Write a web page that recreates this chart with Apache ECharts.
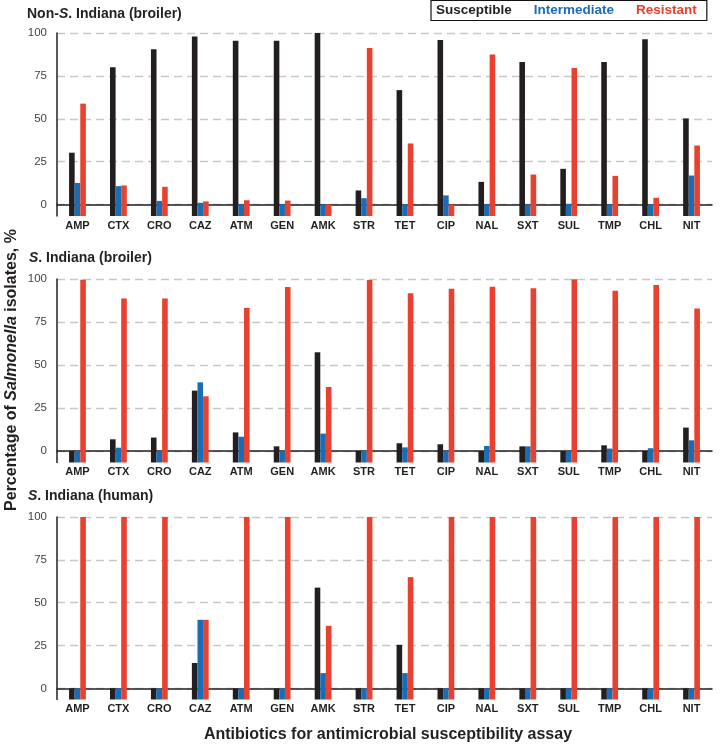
<!DOCTYPE html>
<html><head><meta charset="utf-8">
<script src="https://cdn.jsdelivr.net/npm/echarts@6/dist/echarts.min.js"></script>
<style>html,body{margin:0;padding:0;background:#fff}#c{width:720px;height:744px}</style>
</head><body><div id="c"></div>
<script>
const categories = ['AMP','CTX','CRO','CAZ','ATM','GEN','AMK','STR','TET','CIP','NAL','SXT','SUL','TMP','CHL','NIT'];
const seriesNames = ['Susceptible','Intermediate','Resistant'];
const yTicks = [0, 25, 50, 75, 100];

const nonSIBroilerS = [30.2, 80, 90.5, 97.9, 95.5, 95.5, 100, 8.2, 66.7, 95.9, 13.2, 83.1, 20.8, 83.1, 96.3, 50.2];
const nonSIBroilerI = [12.6, 10.7, 2.1, 1, 0, 0, 0, 3.7, 0, 5.3, 0, 0, 0.4, 0, 0, 16.9];
const nonSIBroilerR = [58.8, 11.1, 10.3, 1.8, 2.5, 2.3, 0, 91.2, 35.6, 0, 87.5, 17.5, 79.6, 16.7, 3.9, 34.4];

const siBroilerS = [0, 6.8, 7.8, 35.1, 10.8, 2.7, 57.4, 0, 4.5, 3.9, 0, 2.7, 0, 3.3, 0, 13.6];
const siBroilerI = [0, 1.9, 0, 39.9, 8.3, 0, 10.1, 0, 2.1, 0, 2.9, 2.7, 0, 1.4, 1.6, 6.2];
const siBroilerR = [99.6, 88.6, 88.6, 31.8, 83.1, 95.3, 37.2, 99.4, 91.7, 94.4, 95.5, 94.6, 99.8, 93.2, 96.5, 82.8];

const siHumanS = [0, 0, 0, 14.8, 0, 0, 58.8, 0, 25.4, 0, 0, 0, 0, 0, 0, 0];
const siHumanI = [0, 0, 0, 40, 0, 0, 8.9, 0, 8.9, 0, 0, 0, 0, 0, 0, 0];
const siHumanR = [100, 100, 100, 40, 100, 100, 36.5, 100, 64.9, 100, 100, 100, 100, 100, 100, 100];

const FONT = "'Liberation Sans', Arial, sans-serif";
const COLORS = ['#231f20', '#1a6db5', '#e8412f'];
const panels = [
  {top: 33, height: 183, min: -6.7, data: [nonSIBroilerS, nonSIBroilerI, nonSIBroilerR]},
  {top: 279, height: 183.5, min: -6.7, data: [siBroilerS, siBroilerI, siBroilerR]},
  {top: 517, height: 182.5, min: -6.5, data: [siHumanS, siHumanI, siHumanR]}
];
const titleTexts = [
  {text: '{n|Non-}{i|S}{n|. Indiana (broiler)}', top: 7, left: 27},
  {text: '{i|S}{n|. Indiana (broiler)}', top: 251, left: 29},
  {text: '{i|S}{n|. Indiana (human)}', top: 489, left: 28}
];
const richTitle = {
  n: {fontSize: 14, fontWeight: 'bold', fontFamily: FONT, color: '#231f20'},
  i: {fontSize: 14, fontWeight: 'bold', fontStyle: 'italic', fontFamily: FONT, color: '#231f20'}
};

const grid = [], xAxis = [], yAxis = [], series = [], title = [];
panels.forEach((p, k) => {
  grid.push({left: 57, right: 8, top: p.top, height: p.height});
  xAxis.push({
    type: 'category', gridIndex: k, data: categories,
    axisTick: {show: false},
    axisLine: {lineStyle: {color: '#231f20', width: 1.5}},
    axisLabel: {margin: 4, fontSize: 11, fontWeight: 'bold', color: '#231f20', fontFamily: FONT}
  });
  yAxis.push({
    type: 'value', gridIndex: k, min: p.min, max: 100, startValue: p.min,
    axisLine: {show: true, lineStyle: {color: '#231f20', width: 1.5}},
    axisTick: {show: false, customValues: yTicks},
    axisLabel: {customValues: yTicks, margin: 10, fontSize: 11.5, color: '#444', fontFamily: FONT},
    splitLine: {show: true, lineStyle: {color: '#c8c8c8', type: [8, 5], width: 1.3}}
  });
  p.data.forEach((arr, j) => {
    series.push({
      type: 'bar', name: seriesNames[j], xAxisIndex: k, yAxisIndex: k,
      data: arr, barWidth: 5.6, barGap: '0%',
      itemStyle: {color: COLORS[j]}
    });
  });
  title.push({text: titleTexts[k].text, left: titleTexts[k].left, top: titleTexts[k].top, padding: 0,
    textStyle: {rich: richTitle}});
});

const chart = echarts.init(document.getElementById('c'), null, {renderer: 'canvas'});
chart.setOption({
  animation: false,
  backgroundColor: '#fff',
  title, grid, xAxis, yAxis, series,
  legend: {
    left: 431, top: 0.5, icon: 'rect', itemWidth: 0, itemHeight: 0, itemGap: 17,
    padding: [3, 10, 3, 0], borderColor: '#111', borderWidth: 1.2, selectedMode: false,
    textStyle: {fontSize: 13.5, fontWeight: 'bold', fontFamily: FONT},
    data: seriesNames.map((n, j) => ({name: n, textStyle: {color: COLORS[j]}}))
  },
  graphic: [
    {type: 'text', x: 12, y: 370, rotation: Math.PI / 2,
      style: {text: '{b|Percentage of }{i|Salmonella}{b| isolates, %}', align: 'center', verticalAlign: 'middle',
        rich: {
          b: {fontSize: 16, fontWeight: 'bold', fontFamily: FONT, fill: '#231f20', color: '#231f20'},
          i: {fontSize: 16, fontWeight: 'bold', fontStyle: 'italic', fontFamily: FONT, fill: '#231f20', color: '#231f20'}
        }}},
    {type: 'text', x: 388, y: 735,
      style: {text: 'Antibiotics for antimicrobial susceptibility assay', align: 'center', verticalAlign: 'middle',
        font: "bold 16px " + FONT, fill: '#231f20'}}
  ]
});
</script></body></html>
